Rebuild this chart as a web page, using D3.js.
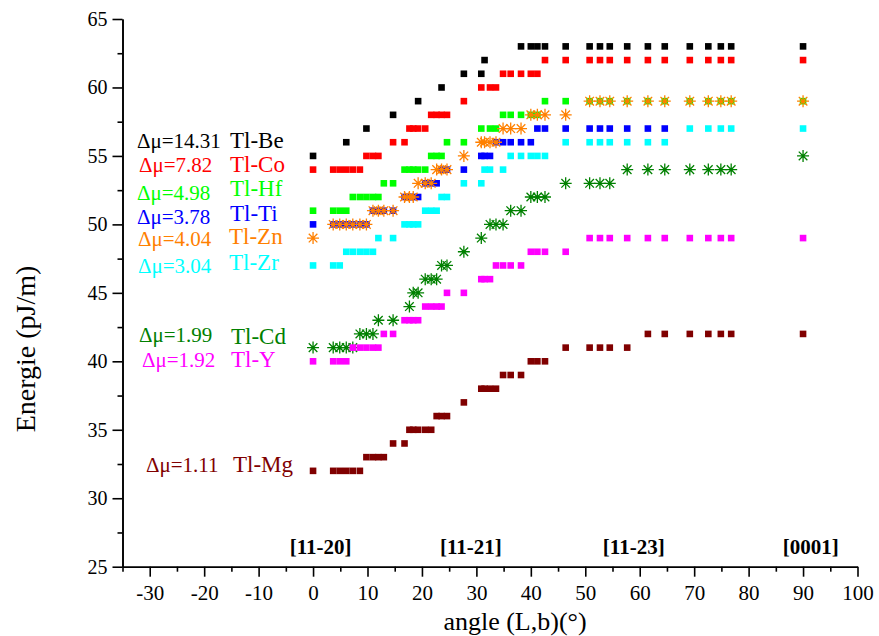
<!DOCTYPE html>
<html>
<head>
<meta charset="utf-8">
<script src="https://cdn.jsdelivr.net/npm/d3@7"></script>
<style>
  body { margin: 0; background: #fff; }
  svg { display: block; }
  text { font-family: "Liberation Serif", "Times New Roman", serif; }
</style>
</head>
<body>
<svg id="chart" width="879" height="636"></svg>
<script>
// Dislocation line angle (deg) from [11-20] towards [0001]
const angles = [0, 3.7, 4.9, 6.1, 7.3, 8.6, 9.8, 11.0, 12.0, 13.0,
                14.7, 16.8, 17.7, 18.4, 19.3, 20.6, 21.7, 22.7, 23.6, 24.6,
                27.7, 30.9, 31.5, 32.5, 33.6, 34.9, 36.3, 38.2, 40.0, 41.2,
                42.6, 46.4, 50.8, 52.7, 54.5, 57.7, 61.5, 64.6, 69.2, 72.6,
                74.9, 76.8, 90];
const _ = null;

// Line energies (pJ/m) per alloy, aligned with `angles` (null = not computed)
const energyBe = [55,_,_,56,_, _,57,_,_,_, 58,_,_,_,59, _,_,_,60,_, 61,61,62,_,_, _,_,63,63,63, 63,63,63,63,63, 63,63,63,63,63, 63,63,63];
const energyCo = [54,54,54,54,54, 54,55,55,55,_, 56,56,57,57,57, 57,58,58,58,58, 59,60,_,60,60, 61,61,61,61,61, 62,62,62,62,62, 62,62,62,62,62, 62,62,62];
const energyHf = [51,51,51,51,52, 52,52,52,52,53, 53,54,54,54,54, 54,55,55,55,56, 56,57,_,57,57, 58,58,58,58,58, 59,59,59,59,59, 59,59,59,59,59, 59,59,59];
const energyTi = [50,50,50,50,50, 50,50,51,51,51, 51,52,52,52,52, 53,53,53,54,54, 54,55,55,55,56, 56,56,56,56,57, 57,57,57,57,57, 57,57,57,_,_, _,_,_];
const energyZn = [49,50,50,50,50, 50,50,51,51,51, 51,52,52,52,53, 53,53,54,54,54, 55,56,56,56,56, 57,57,57,58,58, 58,58,59,59,59, 59,59,59,59,59, 59,59,59];
const energyZr = [47,47,47,48,48, 48,48,48,49,_, 49,50,50,50,50, 51,51,51,52,52, 53,53,54,54,_, 54,55,55,55,55, 55,56,56,56,56, 56,56,56,57,57, 57,57,57];
const energyCd = [41,41,41,41,41, 42,42,42,43,_, 43,_,44,45,45, 46,46,46,47,47, 48,49,_,50,50, 50,51,51,52,52, 52,53,53,53,53, 54,54,54,54,54, 54,54,55];
const energyY  = [40,40,40,40,41, 41,41,41,41,42, 42,43,43,43,43, 44,44,44,44,45, 45,46,46,46,47, 47,47,47,48,48, 48,48,49,49,49, 49,49,49,49,49, 49,49,49];
const energyMg = [32,32,32,32,32, 32,33,33,33,33, 34,34,35,35,35, 35,35,36,36,36, 37,38,38,38,38, 39,39,39,40,40, 40,41,41,41,41, 41,42,42,42,42, 42,42,42];

const seriesNames  = ["Tl-Be", "Tl-Co", "Tl-Hf", "Tl-Ti", "Tl-Zn", "Tl-Zr", "Tl-Cd", "Tl-Y", "Tl-Mg"];
const deltaMu      = ["14.31", "7.82", "4.98", "3.78", "4.04", "3.04", "1.99", "1.92", "1.11"];
const seriesColors = ["#000000", "#ff0000", "#00ff00", "#0000ff", "#ff8000", "#00ffff", "#008000", "#ff00ff", "#800000"];
const seriesShapes = ["square", "square", "square", "square", "star", "square", "star", "square", "square"];
const seriesEnergy = [energyBe, energyCo, energyHf, energyTi, energyZn, energyZr, energyCd, energyY, energyMg];

const directionLabels = ["[11-20]", "[11-21]", "[11-23]", "[0001]"];
const directionAngles = [1.4, 29.0, 58.9, 91.4];

const xTicks = d3.range(-30, 101, 10);
const xMinor = d3.range(-35, 100, 10);
const yTicks = d3.range(25, 66, 5);
const yMinor = d3.range(27.5, 65, 5);

const serif = "'Liberation Serif', 'Times New Roman', serif";
const svg = d3.select("#chart");
const x = d3.scaleLinear().domain([-35, 100]).range([122.5, 857.5]);
const y = d3.scaleLinear().domain([25, 65]).range([566.7, 19]);

// axes
function styleAxis(size) {
  return g => {
    g.attr("font-family", serif);
    g.selectAll("path.domain").attr("stroke", "#000").attr("stroke-width", 1.6);
    g.selectAll(".tick line").attr("stroke", "#000").attr("stroke-width", 1.6);
    g.selectAll(".tick text").attr("fill", "#000")
      .style("font-family", serif).style("font-size", size + "px");
  };
}
const plain = d => String(d);   // hyphen-minus for negative ticks
const yAxisX = x(-35), xAxisY = y(25);

svg.append("g").attr("transform", `translate(${yAxisX},0)`)
  .call(d3.axisLeft(y).tickValues(yMinor).tickSize(5).tickSizeOuter(0).tickFormat(""))
  .call(styleAxis(20));
svg.append("g").attr("transform", `translate(${yAxisX},0)`)
  .call(d3.axisLeft(y).tickValues(yTicks).tickSize(10).tickSizeOuter(0).tickPadding(5).tickFormat(plain))
  .call(styleAxis(20));
svg.append("g").attr("transform", `translate(0,${xAxisY})`)
  .call(d3.axisBottom(x).tickValues(xMinor).tickSize(5).tickSizeOuter(0).tickFormat(""))
  .call(styleAxis(21));
svg.append("g").attr("transform", `translate(0,${xAxisY})`)
  .call(d3.axisBottom(x).tickValues(xTicks).tickSize(10).tickSizeOuter(0).tickPadding(8).tickFormat(plain))
  .call(styleAxis(21));

// axis titles
svg.append("text")
  .attr("transform", "translate(35,349) rotate(-90)")
  .attr("text-anchor", "middle").style("font-size", "28px").text("Energie (pJ/m)");
svg.append("text")
  .attr("x", 515).attr("y", 630)
  .attr("text-anchor", "middle").style("font-size", "26px").text("angle (L,b)(°)");

// crystallographic direction labels
svg.append("g").selectAll("text").data(directionLabels).join("text")
  .attr("x", (d, i) => x(directionAngles[i]))
  .attr("y", 554)
  .attr("text-anchor", "middle")
  .style("font-size", "21px").style("font-weight", "bold")
  .text(d => d);

// data markers
const starPath = "M-6,0H6M0,-6V6M-4.3,-4.3L4.3,4.3M-4.3,4.3L4.3,-4.3";
seriesEnergy.forEach((vals, s) => {
  const pts = angles.map((a, i) => ({ a, e: vals[i] })).filter(p => p.e !== null);
  const g = svg.append("g").attr("class", "series-" + seriesNames[s]);
  if (seriesShapes[s] === "square") {
    g.selectAll("rect").data(pts).join("rect")
      .attr("x", p => x(p.a) - 3.3).attr("y", p => y(p.e) - 3.3)
      .attr("width", 6.6).attr("height", 6.6)
      .attr("fill", seriesColors[s]);
  } else {
    g.selectAll("path").data(pts).join("path")
      .attr("transform", p => `translate(${x(p.a)},${y(p.e)})`)
      .attr("d", starPath)
      .attr("stroke", seriesColors[s]).attr("stroke-width", 1.3).attr("fill", "none");
  }
});

// per-alloy annotations
const labelMuX   = [137, 139, 137, 137, 138, 138, 139, 142, 146];
const labelMuY   = [148, 172, 200, 224, 246, 273, 342, 367, 472];
const labelNameX = [230, 230, 230, 230, 229, 229, 231, 231, 233];
const labelNameY = [148, 172, 196, 221, 244, 270, 344, 367, 472];
const ann = svg.append("g");
seriesNames.forEach((name, s) => {
  ann.append("text").attr("x", labelMuX[s]).attr("y", labelMuY[s])
    .attr("fill", seriesColors[s]).style("font-size", "21px")
    .text("Δμ=" + deltaMu[s]);
  ann.append("text").attr("x", labelNameX[s]).attr("y", labelNameY[s])
    .attr("fill", seriesColors[s]).style("font-size", "23px")
    .text(name);
});
</script>
</body>
</html>
